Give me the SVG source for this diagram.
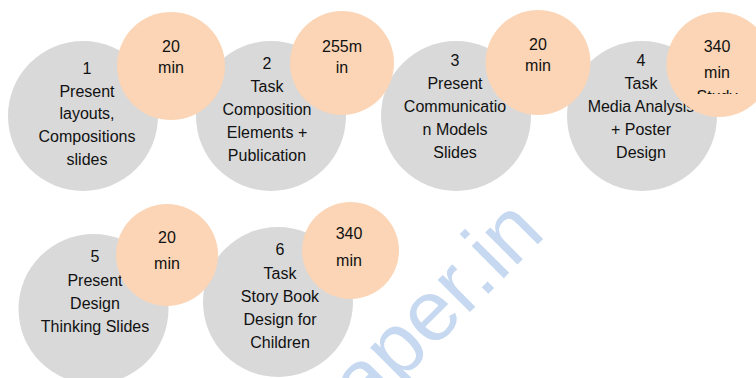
<svg xmlns="http://www.w3.org/2000/svg" width="756" height="378" viewBox="0 0 756 378">
<style>
.g{fill:#d9d9d9}
.o{fill:#fbd5b5}
text{font-family:"Liberation Sans",Arial,sans-serif;font-size:16px;fill:#111;text-anchor:middle}
.wm{font-family:"Liberation Sans",Arial,sans-serif;font-size:86px;fill:#c6d9f0;text-anchor:end}
</style>
<defs>
<clipPath id="clip4"><rect x="660" y="0" width="96" height="94"/></clipPath>
</defs>
<rect width="756" height="378" fill="#ffffff"/>
<g id="connectors"/>
<g id="node-1">
<circle class="g" cx="83" cy="116" r="75"/>
<text x="87" y="74">1</text>
<text x="87" y="96.7">Present</text>
<text x="87" y="119.4">layouts,</text>
<text x="87" y="142.1">Compositions</text>
<text x="87" y="164.8">slides</text>
</g>
<g id="node-2">
<circle class="g" cx="271" cy="116" r="75"/>
<text x="267" y="68.5">2</text>
<text x="267" y="91.5">Task</text>
<text x="267" y="114.5">Composition</text>
<text x="267" y="137.5">Elements +</text>
<text x="267" y="160.5">Publication</text>
</g>
<g id="node-3">
<circle class="g" cx="456" cy="116" r="75"/>
<text x="455" y="65.5">3</text>
<text x="455" y="88.5">Present</text>
<text x="455" y="111.5">Communicatio</text>
<text x="455" y="134.5">n Models</text>
<text x="455" y="157.5">Slides</text>
</g>
<g id="node-4">
<circle class="g" cx="642" cy="116" r="75"/>
<text x="641" y="65.5">4</text>
<text x="641" y="88.5">Task</text>
<text x="641" y="111.5">Media Analysis</text>
<text x="641" y="134.5">+ Poster</text>
<text x="641" y="157.5">Design</text>
</g>
<g id="node-5">
<circle class="g" cx="93.5" cy="309" r="75"/>
<text x="95" y="262">5</text>
<text x="95" y="285.5">Present</text>
<text x="95" y="308.5">Design</text>
<text x="95" y="331.5">Thinking Slides</text>
</g>
<g id="node-6">
<circle class="g" cx="278" cy="302" r="75"/>
<text x="280" y="255">6</text>
<text x="280" y="278.5">Task</text>
<text x="280" y="301.5">Story Book</text>
<text x="280" y="324.5">Design for</text>
<text x="280" y="347.5">Children</text>
</g>
<g id="time-1">
<circle class="o" cx="171" cy="66" r="54"/>
<text x="171" y="52">20</text>
<text x="171" y="73">min</text>
</g>
<g id="time-2">
<circle class="o" cx="342" cy="63" r="52"/>
<text x="342" y="52">255m</text>
<text x="342" y="73">in</text>
</g>
<g id="time-3">
<circle class="o" cx="538" cy="62.5" r="52.5"/>
<text x="538" y="50">20</text>
<text x="538" y="71">min</text>
</g>
<g id="time-4">
<circle class="o" cx="719" cy="64.5" r="52.5"/>
<text x="717" y="52">340</text>
<text x="717" y="78">min</text>
<text x="717" y="102" clip-path="url(#clip4)">Study</text>
</g>
<g id="time-5">
<circle class="o" cx="167" cy="255" r="51"/>
<text x="167" y="243">20</text>
<text x="167" y="269">min</text>
</g>
<g id="time-6">
<circle class="o" cx="350.5" cy="250.5" r="48.5"/>
<text x="349" y="239">340</text>
<text x="349" y="266">min</text>
</g>
<text class="wm" transform="translate(547,235) rotate(-45)">paper.in</text>
</svg>
